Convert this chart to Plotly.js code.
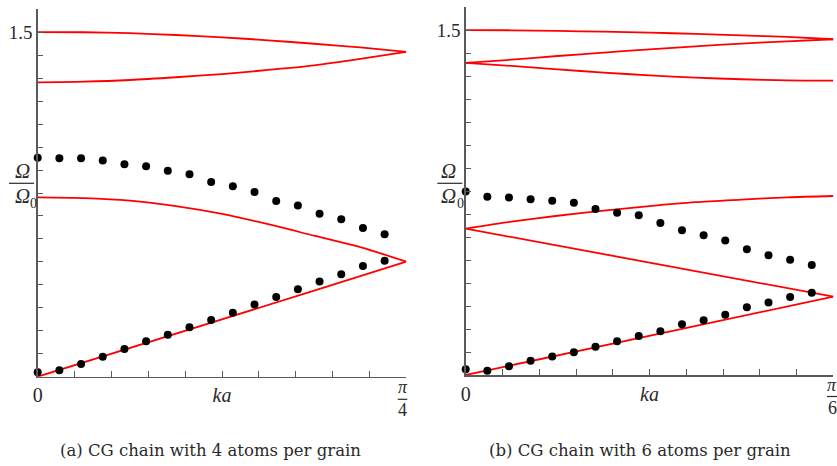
<!DOCTYPE html>
<html>
<head>
<meta charset="utf-8">
<script src="https://cdn.plot.ly/plotly-3.0.1.min.js"></script>
<style>html,body{margin:0;padding:0;background:#fff;}#chart{width:837px;height:466px;}</style>
</head>
<body>
<div id="chart"></div>
<script>
// ---------- data ----------
// (a) 4 atoms per grain, ka in [0, pi/4]
const kaCurveA = [0, 0.0982, 0.1963, 0.2945, 0.3927, 0.4909, 0.5890, 0.6872, 0.7854];
const bandA1 = [1.501, 1.500, 1.496, 1.488, 1.478, 1.465, 1.450, 1.434, 1.415];
const bandA2 = [1.282, 1.285, 1.292, 1.304, 1.318, 1.336, 1.356, 1.384, 1.415];
const bandA3 = [0.781, 0.778, 0.767, 0.743, 0.709, 0.664, 0.614, 0.564, 0.501];
const bandA4 = [0.000, 0.062, 0.125, 0.188, 0.250, 0.313, 0.375, 0.438, 0.501];

const kaDotsA = [0, 0.0462, 0.0924, 0.1386, 0.1848, 0.2310, 0.2772, 0.3234, 0.3696, 0.4158, 0.4620, 0.5082, 0.5544, 0.6006, 0.6468, 0.6930, 0.7392, 0.7854];
const dotsA1 = [0.954, 0.951, 0.951, 0.941, 0.925, 0.916, 0.897, 0.882, 0.848, 0.829, 0.804, 0.765, 0.746, 0.710, 0.686, 0.648, 0.620, 0.607];
const dotsA2 = [0.019, 0.028, 0.055, 0.087, 0.121, 0.154, 0.183, 0.215, 0.247, 0.279, 0.314, 0.347, 0.381, 0.415, 0.446, 0.482, 0.505, 0.521];

// (b) 6 atoms per grain, ka in [0, pi/6]
const kaCurveB = [0, 0.0654, 0.1309, 0.1963, 0.2618, 0.3272, 0.3927, 0.4581, 0.5236];
const bandB1 = [1.501, 1.500, 1.497, 1.494, 1.490, 1.484, 1.478, 1.471, 1.461];
const bandB2 = [1.358, 1.372, 1.388, 1.403, 1.417, 1.430, 1.442, 1.452, 1.461];
const bandB3 = [1.358, 1.345, 1.330, 1.316, 1.304, 1.294, 1.287, 1.282, 1.281];
const bandB4 = [0.637, 0.667, 0.693, 0.715, 0.735, 0.752, 0.763, 0.773, 0.779];
const bandB5 = [0.637, 0.600, 0.563, 0.526, 0.489, 0.452, 0.415, 0.378, 0.341];
const bandB6 = [0.000, 0.043, 0.085, 0.128, 0.170, 0.213, 0.256, 0.298, 0.341];

const kaDotsB = [0, 0.0308, 0.0616, 0.0924, 0.1232, 0.1540, 0.1848, 0.2156, 0.2464, 0.2772, 0.3080, 0.3388, 0.3696, 0.4004, 0.4312, 0.4620, 0.4928, 0.5236];
const dotsB1 = [0.798, 0.776, 0.772, 0.765, 0.758, 0.750, 0.722, 0.706, 0.695, 0.661, 0.630, 0.608, 0.585, 0.547, 0.521, 0.502, 0.479, 0.477];
const dotsB2 = [0.025, 0.019, 0.038, 0.062, 0.080, 0.099, 0.123, 0.147, 0.170, 0.190, 0.221, 0.238, 0.262, 0.295, 0.315, 0.339, 0.358, 0.367];

// tick labels and texts
const yTickLabels = {"1.5": "1.5"};
const xMidLabel = "<i>ka</i>";
const captionA = "(a) CG chain with 4 atoms per grain";
const captionB = "(b) CG chain with 6 atoms per grain";
const omegaText = "<i>Ω</i>";
const omegaSub = "0";

// ---------- build ----------
const W = 837, H = 466;
const px = x => x / W;
const py = y => 1 - y / H;
const RED = '#ff0000';
const AX = '#5a5a5a';
const TXT = '#2a2a2a';
const serif = 'Liberation Serif';
const capFont = 'DejaVu Serif';

function lineTrace(x, y, xa, ya, curved) {
  return {x, y, xaxis: xa, yaxis: ya, mode: 'lines', type: 'scatter', cliponaxis: false,
          hoverinfo: 'skip', line: {color: RED, width: 1.8, shape: curved ? 'spline' : 'linear', smoothing: 0.8}};
}
function dotTrace(x, y, xa, ya) {
  return {x, y, xaxis: xa, yaxis: ya, mode: 'markers', type: 'scatter', cliponaxis: false,
          hoverinfo: 'skip', marker: {color: '#000', size: 8}};
}

const traces = [
  lineTrace(kaCurveA, bandA1, 'x', 'y', true),
  lineTrace(kaCurveA, bandA2, 'x', 'y', true),
  lineTrace(kaCurveA, bandA3, 'x', 'y', true),
  lineTrace(kaCurveA, bandA4, 'x', 'y', false),
  dotTrace(kaDotsA, dotsA1, 'x', 'y'),
  dotTrace(kaDotsA, dotsA2, 'x', 'y'),
  lineTrace(kaCurveB, bandB1, 'x2', 'y2', true),
  lineTrace(kaCurveB, bandB2, 'x2', 'y2', true),
  lineTrace(kaCurveB, bandB3, 'x2', 'y2', true),
  lineTrace(kaCurveB, bandB4, 'x2', 'y2', true),
  lineTrace(kaCurveB, bandB5, 'x2', 'y2', false),
  lineTrace(kaCurveB, bandB6, 'x2', 'y2', false),
  dotTrace(kaDotsB, dotsB1, 'x2', 'y2'),
  dotTrace(kaDotsB, dotsB2, 'x2', 'y2')
];

const yVals = [], yText = [];
for (let i = 0; i <= 16; i++) { const v = +(i / 10).toFixed(1); yVals.push(v); yText.push(yTickLabels[v.toFixed(1)] || ' '); }
function xTicks(kmax) {
  const vals = [], text = [];
  for (let i = 0; i <= 10; i++) { vals.push(kmax * i / 10); text.push(i === 0 ? '0' : (i === 5 ? xMidLabel : ' ')); }
  return {vals, text};
}
const xtA = xTicks(Math.PI / 4), xtB = xTicks(Math.PI / 6);

function xAxis(domain, kmax, xt) {
  return {domain, range: [0, kmax], showgrid: false, zeroline: false, showline: true,
          linecolor: AX, linewidth: 1.5, ticks: 'inside', ticklen: 6, tickwidth: 1, tickcolor: AX,
          tickmode: 'array', tickvals: xt.vals, ticktext: xt.text, ticklabelstandoff: 0,
          tickfont: {family: serif, size: 20, color: TXT}, fixedrange: true};
}
function yAxis(domain, anchor) {
  return {domain, anchor, range: [0, 1.6], showgrid: false, zeroline: false, showline: true,
          linecolor: AX, linewidth: 1.5, ticks: 'inside', ticklen: 5, tickwidth: 1, tickcolor: AX,
          tickmode: 'array', tickvals: yVals, ticktext: yText,
          tickfont: {family: serif, size: 19, color: TXT}, fixedrange: true};
}

const layout = {
  width: W, height: H, margin: {l: 0, r: 0, t: 0, b: 0},
  paper_bgcolor: '#fff', plot_bgcolor: 'rgba(0,0,0,0)', showlegend: false,
  xaxis: Object.assign(xAxis([px(37.7), px(406.3)], Math.PI / 4, xtA), {anchor: 'y'}),
  yaxis: yAxis([py(376.7), py(9.3)], 'x'),
  xaxis2: Object.assign(xAxis([px(465.7), px(833.4)], Math.PI / 6, xtB), {anchor: 'y2'}),
  yaxis2: yAxis([py(375), py(7.3)], 'x2'),
  shapes: [],
  annotations: []
};

function note(x, y, text, size, family, xanchor) {
  layout.annotations.push({xref: 'paper', yref: 'paper', x: px(x), y: py(y), text, showarrow: false,
    xanchor: xanchor || 'center', yanchor: 'middle', font: {family, size, color: TXT}});
}
function bar(x0, x1, y) {
  layout.shapes.push({type: 'line', xref: 'paper', yref: 'paper', x0: px(x0), x1: px(x1), y0: py(y), y1: py(y),
    line: {color: TXT, width: 1.2}});
}
// axis-title fractions  Ω / Ω0
function omegaFrac(cx, x0, x1) {
  note(cx, 171, omegaText, 21, serif);
  note(cx, 196, omegaText, 21, serif);
  note(cx + 11.5, 204, omegaSub, 14, serif);
  bar(x0, x1, 183.3);
}
omegaFrac(22, 9, 34);
omegaFrac(448.7, 437.3, 462.3);
// end tick labels  π/4 , π/6
note(402.5, 387, '<i>π</i>', 18, serif);
note(402.5, 410, '4', 18, serif);
bar(397.7, 407.3, 399.3);
note(832, 385, '<i>π</i>', 18, serif);
note(832, 408, '6', 18, serif);
bar(827, 838, 396.5);

// captions
note(211, 450, captionA, 16.5, capFont);
note(640, 450, captionB, 16.5, capFont);

Plotly.newPlot('chart', traces, layout, {staticPlot: true, displayModeBar: false});
</script>
</body>
</html>
